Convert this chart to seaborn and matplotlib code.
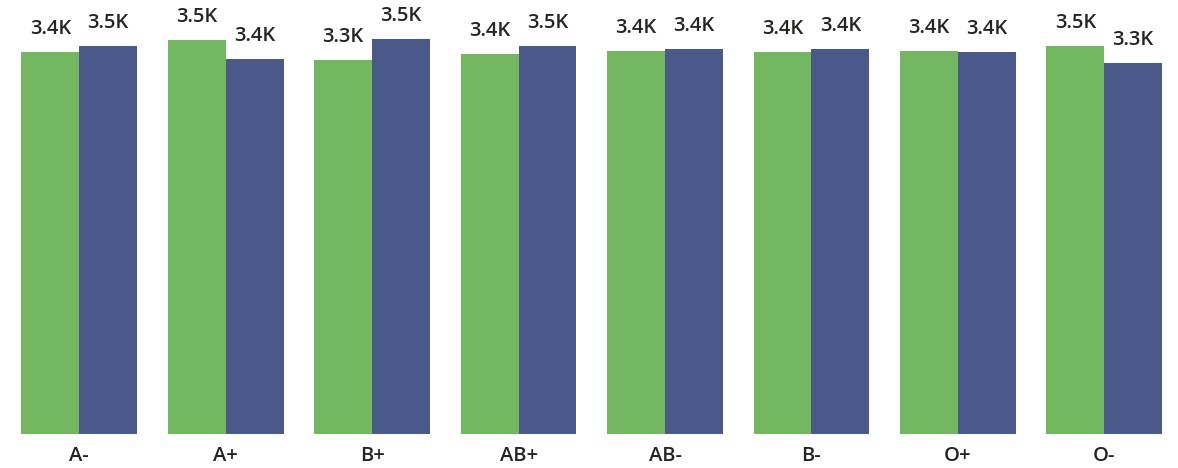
import matplotlib
matplotlib.use("Agg")
import matplotlib.pyplot as plt
import seaborn as sns
import pandas as pd

# Blood groups and the two measured series
categories = ["A-", "A+", "B+", "AB+", "AB-", "B-", "O+", "O-"]
series_names = ["Series 1", "Series 2"]
values_first = [3418, 3526, 3346, 3400, 3427, 3418, 3427, 3472]
values_second = [3472, 3353, 3532, 3472, 3445, 3445, 3418, 3320]
colors = ["#73B761", "#4A588A"]

df = pd.DataFrame({
    "group": categories * 2,
    "series": [series_names[0]] * len(categories) + [series_names[1]] * len(categories),
    "value": values_first + values_second,
})

sns.set_theme(style="white")
plt.rcParams["font.family"] = ["Open Sans", "DejaVu Sans"]

fig = plt.figure(figsize=(11.78, 4.68), dpi=100)
ax = fig.add_axes([6.1 / 1178, (468 - 433.5) / 468, 1171.4 / 1178, 433.5 / 468])

sns.barplot(
    data=df, x="group", y="value", hue="series", order=categories,
    hue_order=series_names, palette=colors, width=0.79, gap=0,
    linewidth=0, saturation=1, legend=False, ax=ax,
)

for container in ax.containers:
    ax.bar_label(
        container,
        labels=[f"{b.get_height() / 1000:.1f}K" for b in container],
        padding=9, fontsize=14.5, fontweight=600, color="#252423",
    )

ax.set_xlim(-0.5, len(categories) - 0.5)
ax.set_ylim(0, 3881)
ax.set_xlabel("")
ax.set_ylabel("")
ax.set_yticks([])
ax.tick_params(axis="x", length=0, pad=9, labelsize=14.5, labelcolor="#252423")
for lbl in ax.get_xticklabels():
    lbl.set_fontweight(600)
for spine in ax.spines.values():
    spine.set_visible(False)

fig.savefig("out.png", dpi=100)
